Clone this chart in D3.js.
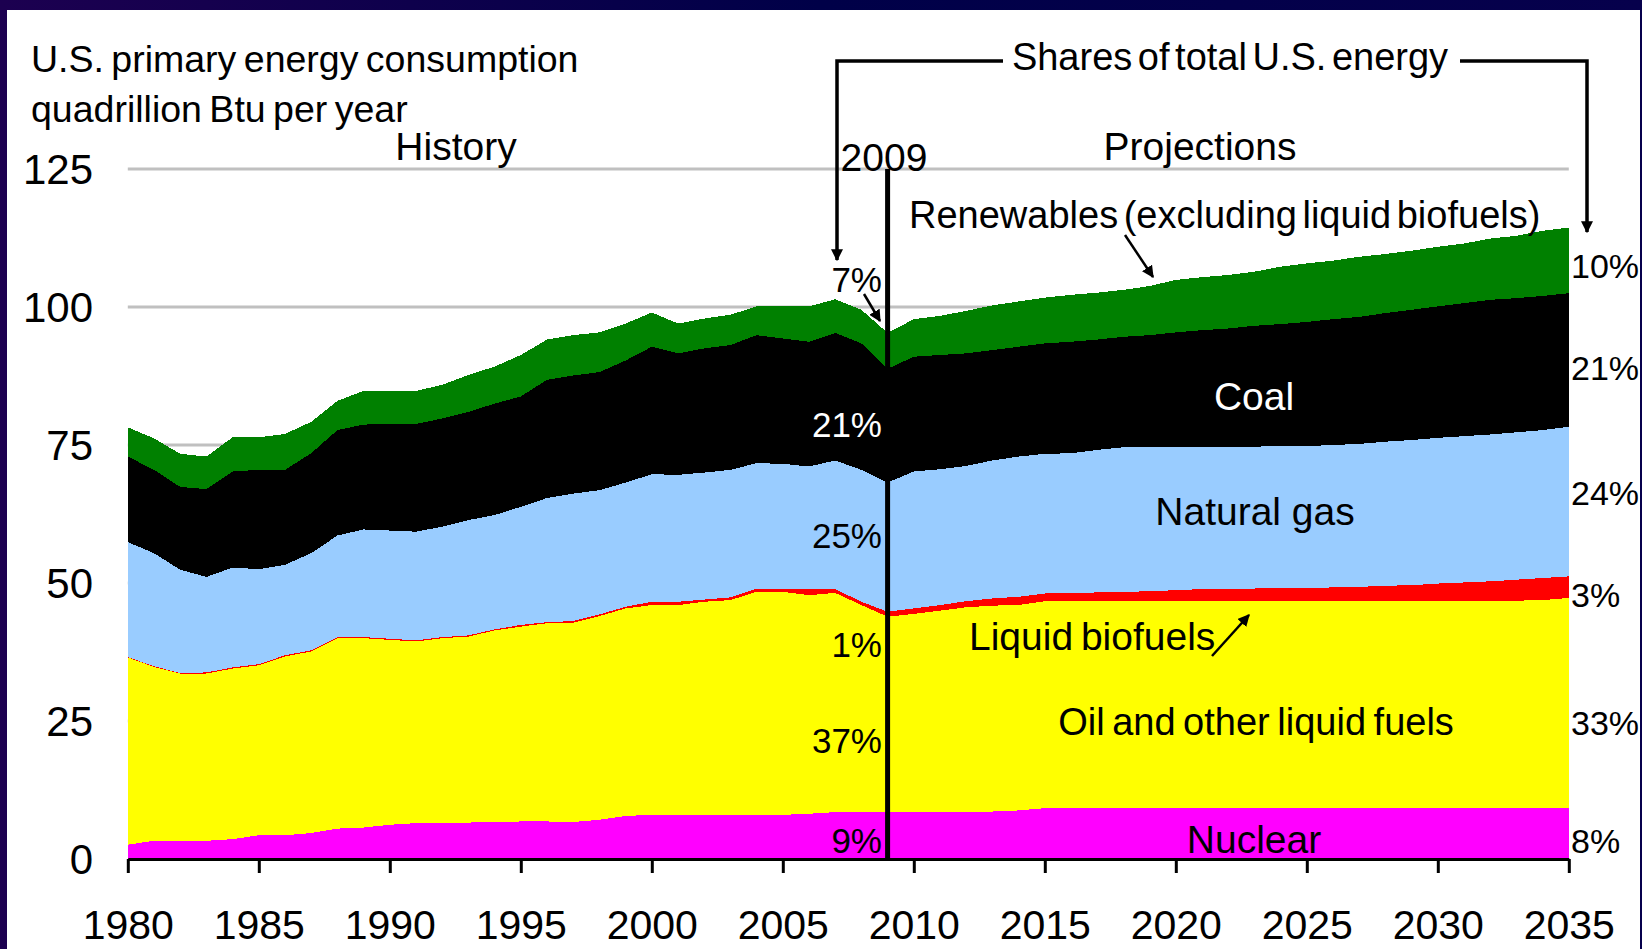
<!DOCTYPE html>
<html>
<head>
<meta charset="utf-8">
<script src="https://cdn.jsdelivr.net/npm/d3@7"></script>
<style>
  body { margin: 0; background: #03004a; }
  svg { display: block; }
  text { font-family: "Liberation Sans", Arial, sans-serif; }
</style>
</head>
<body>
<svg id="chart" width="1642" height="949"></svg>
<script>
// U.S. primary energy consumption, quadrillion Btu per year (history 1980-2009, projections to 2035)
const years = d3.range(1980, 2036);

const nuclear = [
    2.6, 3.3, 3.3, 3.3, 3.6, 4.3, 4.3, 4.7, 5.5, 5.7,
    6.2, 6.5, 6.6, 6.6, 6.7, 6.8, 6.8, 6.7, 7.1, 7.8,
    8.0, 8.0, 8.0, 8.0, 8.0, 8.0, 8.2, 8.5, 8.6, 8.6,
    8.6, 8.6, 8.6, 8.6, 8.8, 9.2, 9.3, 9.3, 9.3, 9.3,
    9.3, 9.3, 9.3, 9.3, 9.3, 9.3, 9.3, 9.3, 9.3, 9.3,
    9.3, 9.3, 9.3, 9.3, 9.3, 9.3
];
const oil = [
    33.9, 31.5, 30.3, 30.3, 30.9, 30.8, 32.4, 32.9, 34.5, 34.3,
    33.5, 32.9, 33.4, 33.7, 34.7, 35.3, 35.9, 36.1, 36.9, 37.6,
    38.0, 38.0, 38.6, 38.9, 40.4, 40.4, 39.6, 39.7, 37.4, 35.3,
    35.8, 36.4, 37.0, 37.3, 37.2, 37.5, 37.4, 37.4, 37.4, 37.4,
    37.4, 37.4, 37.4, 37.4, 37.4, 37.4, 37.4, 37.4, 37.4, 37.4,
    37.4, 37.4, 37.5, 37.5, 37.6, 38.0
];
const biofuels = [
    0.1, 0.1, 0.1, 0.2, 0.2, 0.2, 0.2, 0.2, 0.2, 0.2,
    0.2, 0.2, 0.2, 0.2, 0.2, 0.3, 0.2, 0.3, 0.3, 0.3,
    0.6, 0.6, 0.4, 0.5, 0.6, 0.6, 1.2, 0.7, 0.6, 0.9,
    1.0, 1.0, 1.1, 1.3, 1.5, 1.4, 1.4, 1.6, 1.7, 1.8,
    2.0, 2.2, 2.3, 2.3, 2.4, 2.4, 2.5, 2.6, 2.8, 2.9,
    3.2, 3.4, 3.5, 3.8, 4.0, 3.9
];
const naturalGas = [
    20.8, 20.5, 18.7, 17.3, 18.1, 17.2, 16.4, 17.6, 18.4, 19.5,
    19.6, 19.7, 20.0, 20.9, 20.7, 21.4, 22.5, 23.1, 22.5, 22.5,
    23.1, 23.0, 23.0, 23.1, 22.7, 22.6, 22.1, 23.3, 23.9, 23.4,
    24.8, 24.6, 24.5, 25.0, 25.4, 25.3, 25.4, 25.8, 26.2, 26.1,
    26.0, 25.8, 25.7, 25.7, 25.7, 25.7, 25.8, 25.9, 26.1, 26.3,
    26.4, 26.5, 26.6, 26.7, 26.8, 27.1
];
const coal = [
    15.5, 15.1, 15.0, 15.9, 17.4, 18.0, 17.2, 18.1, 19.1, 19.0,
    19.3, 19.5, 19.6, 19.6, 20.2, 20.0, 21.4, 21.4, 21.4, 22.1,
    23.1, 22.0, 22.5, 22.6, 23.2, 22.7, 22.6, 23.1, 22.9, 20.6,
    20.8, 20.7, 20.4, 20.0, 19.9, 20.0, 20.2, 20.0, 20.0, 20.3,
    20.7, 21.1, 21.4, 21.9, 22.1, 22.5, 22.8, 23.0, 23.3, 23.6,
    23.8, 24.1, 24.4, 24.3, 24.3, 24.2
];
const renewables = [
    5.3, 5.7, 6.0, 5.9, 6.2, 5.9, 6.5, 5.7, 5.3, 6.1,
    6.0, 6.0, 6.1, 6.7, 6.7, 7.5, 7.3, 7.3, 7.2, 6.7,
    6.2, 5.4, 5.4, 5.5, 5.2, 5.9, 6.4, 6.1, 6.1, 6.5,
    6.8, 7.1, 7.7, 8.1, 8.2, 8.3, 8.5, 8.5, 8.5, 8.9,
    9.5, 9.6, 9.7, 9.8, 10.4, 10.6, 10.6, 10.9, 10.7, 10.7,
    10.8, 10.8, 11.1, 11.3, 11.8, 11.9
];

const yTicks = [0, 25, 50, 75, 100, 125];
const xTicks = d3.range(1980, 2036, 5);
const shares2009 = ['9%', '37%', '1%', '25%', '21%', '7%'];
const shares2035 = ['8%', '33%', '3%', '24%', '21%', '10%'];

const keys = ['nuclear', 'oil', 'biofuels', 'gas', 'coal', 'renewables'];
const colors = {
    nuclear: '#ff00ff',
    oil: '#ffff00',
    biofuels: '#ff0000',
    gas: '#99ccff',
    coal: '#000000',
    renewables: '#008000'
};

const table = years.map((year, i) => ({
    year,
    nuclear: nuclear[i],
    oil: oil[i],
    biofuels: biofuels[i],
    gas: naturalGas[i],
    coal: coal[i],
    renewables: renewables[i]
}));

const width = 1642;
const height = 949;
const svg = d3.select('#chart');

const margin = { top: 169, right: 1568.8, bottom: 859, left: 127.8 };

const x = d3.scaleLinear()
    .domain([1980, 2035])
    .range([margin.left, margin.right]);

const y = d3.scaleLinear()
    .domain([0, 125])
    .range([margin.bottom, margin.top]);

// slide frame
const defs = svg.append('defs');
const bg = defs.append('linearGradient')
    .attr('id', 'frame')
    .attr('x1', 0).attr('x2', 1).attr('y1', 0).attr('y2', 0);
bg.append('stop').attr('offset', '0%').attr('stop-color', '#1c0050');
bg.append('stop').attr('offset', '50%').attr('stop-color', '#000048');
bg.append('stop').attr('offset', '100%').attr('stop-color', '#06004c');

svg.append('rect')
    .attr('width', width).attr('height', height)
    .attr('fill', 'url(#frame)');
svg.append('rect')
    .attr('x', 7).attr('y', 10)
    .attr('width', 1633).attr('height', height - 10)
    .attr('fill', '#fff');

defs.append('marker')
    .attr('id', 'arrow')
    .attr('viewBox', '0 0 10 10')
    .attr('refX', 9).attr('refY', 5)
    .attr('markerUnits', 'userSpaceOnUse')
    .attr('markerWidth', 12).attr('markerHeight', 12)
    .attr('orient', 'auto')
    .append('path')
    .attr('d', 'M0,0 L10,5 L0,10 z')
    .attr('fill', '#000');

// gridlines
svg.append('g')
    .selectAll('line')
    .data(yTicks.filter(d => d > 0))
    .enter().append('line')
    .attr('x1', margin.left).attr('x2', margin.right)
    .attr('y1', d => y(d)).attr('y2', d => y(d))
    .attr('stroke', '#c0c0c0')
    .attr('stroke-width', 3);

// stacked areas
const series = d3.stack().keys(keys)(table);

const area = d3.area()
    .x(d => x(d.data.year))
    .y0(d => y(d[0]))
    .y1(d => y(d[1]));

svg.append('g')
    .selectAll('path')
    .data(series)
    .enter().append('path')
    .attr('d', area)
    .attr('fill', d => colors[d.key])
    .attr('shape-rendering', 'crispEdges');

// axes
const xAxis = g => g
    .attr('transform', `translate(0, ${margin.bottom})`)
    .call(d3.axisBottom(x).tickValues(xTicks).tickFormat(d3.format('d')).tickSize(14).tickSizeOuter(0))
    .call(g => g.select('.domain').attr('stroke-width', 3).attr('stroke', '#000'))
    .call(g => g.selectAll('.tick line').attr('stroke-width', 3).attr('stroke', '#000'))
    .call(g => g.selectAll('.tick text')
        .attr('y', 80).attr('dy', 0)
        .attr('fill', '#000')
        .style('font-size', '41px')
        .style('font-family', '"Liberation Sans", Arial, sans-serif'));

const yAxis = g => g
    .attr('transform', `translate(93, 0)`)
    .call(d3.axisLeft(y).tickValues(yTicks).tickSize(0).tickPadding(0))
    .call(g => g.select('.domain').remove())
    .call(g => g.selectAll('.tick text')
        .attr('fill', '#000')
        .attr('dy', '0.34em')
        .style('font-size', '42px')
        .style('font-family', '"Liberation Sans", Arial, sans-serif'));

svg.append('g').call(xAxis);
svg.append('g').call(yAxis);

// 2009 divider
svg.append('line')
    .attr('x1', x(2009)).attr('x2', x(2009))
    .attr('y1', y(125)).attr('y2', margin.bottom)
    .attr('stroke', '#000')
    .attr('stroke-width', 5);

// text
const label = (txt, px, py, opts = {}) => svg.append('text')
    .attr('x', px).attr('y', py)
    .attr('text-anchor', opts.anchor || 'start')
    .attr('fill', opts.color || '#000')
    .style('font-size', (opts.size || 39) + 'px')
    .style('word-spacing', (opts.ws || 0) + 'px')
    .text(txt);

label('U.S. primary energy consumption', 31, 72, { size: 37.5, ws: -3 });
label('quadrillion Btu per year', 31, 122, { size: 37.5, ws: -3 });
label('History', 456, 160, { anchor: 'middle' });
label('Projections', 1200, 160, { anchor: 'middle' });
label('2009', 884, 171, { anchor: 'middle' });
label('Shares of total U.S. energy', 1230, 70, { anchor: 'middle', size: 38, ws: -5 });
label('Renewables (excluding liquid biofuels)', 909, 228, { size: 38, ws: -5 });
label('Coal', 1254, 410, { anchor: 'middle', color: '#fff' });
label('Natural gas', 1255, 525, { anchor: 'middle' });
label('Liquid biofuels', 969, 650, { ws: -3 });
label('Oil and other liquid fuels', 1256, 735, { anchor: 'middle', size: 38, ws: -3 });
label('Nuclear', 1254, 853, { anchor: 'middle' });

// share labels
const leftShareY = [853, 753, 657, 548, 437, 292];
const rightShareY = [853, 735, 607, 505, 380, 278];

shares2009.forEach((s, i) => {
    label(s, 882, leftShareY[i], { anchor: 'end', size: 35, color: s === '21%' ? '#fff' : '#000' });
});
shares2035.forEach((s, i) => {
    label(s, 1571, rightShareY[i], { size: 34 });
});

// brackets and arrows
svg.append('path')
    .attr('d', 'M1003,61 H837 V260')
    .attr('fill', 'none')
    .attr('stroke', '#000')
    .attr('stroke-width', 3.5)
    .attr('marker-end', 'url(#arrow)');

svg.append('path')
    .attr('d', 'M1460,61 H1587 V232')
    .attr('fill', 'none')
    .attr('stroke', '#000')
    .attr('stroke-width', 3.5)
    .attr('marker-end', 'url(#arrow)');

const arrows = [
    [864, 294, 880, 321],
    [1125, 235, 1153, 277],
    [1212, 656, 1249, 615]
];
svg.append('g')
    .selectAll('line')
    .data(arrows)
    .enter().append('line')
    .attr('x1', d => d[0]).attr('y1', d => d[1])
    .attr('x2', d => d[2]).attr('y2', d => d[3])
    .attr('stroke', '#000')
    .attr('stroke-width', 2.5)
    .attr('marker-end', 'url(#arrow)');
</script>
</body>
</html>
